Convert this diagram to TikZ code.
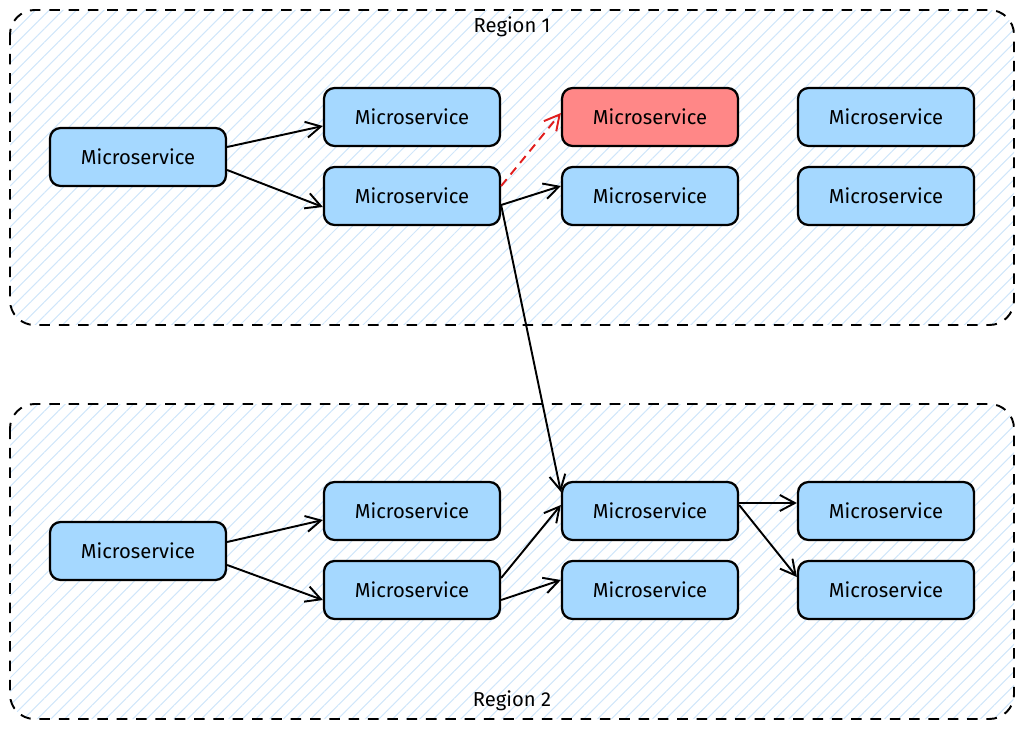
\documentclass[tikz,border=0pt]{standalone}
\usepackage{fontspec}
\setmainfont{Fira Sans}
\usepackage{tikz}
\usetikzlibrary{arrows.meta,patterns.meta}
\definecolor{svcblue}{RGB}{165,216,255}
\definecolor{svcred}{RGB}{255,135,135}
\definecolor{hatch}{RGB}{208,230,250}
\definecolor{warnred}{RGB}{224,30,30}

\begin{document}
\begin{tikzpicture}[
  x=0.02cm, y=-0.02cm,
  box/.style={draw=black, line width=1.3pt, rounded corners=6pt, fill=svcblue, minimum width=3.52cm, minimum height=1.16cm, align=center, font=\fontsize{11.5}{14}\selectfont},
  region/.style={draw=black, line width=1.1pt, dash pattern=on 6pt off 5pt, rounded corners=14pt, pattern={Lines[angle=45,distance=5.5pt,line width=0.6pt]}, pattern color=hatch},
  arr/.style={-{Straight Barb[length=3mm,width=3.2mm]}, line width=1.1pt},
  lbl/.style={font=\fontsize{11.5}{14}\selectfont}
]
\useasboundingbox (0,0) rectangle (1024,729);
% regions
\draw[region] (10,10) rectangle (1014,325);
\draw[region] (10,404) rectangle (1014,719);
\node[lbl] (r1) at (512,27) {Region 1};
\node[lbl] (r2) at (512,701) {Region 2};
% region 1 services
\node[box] (l1) at (138,157) {Microservice};
\node[box] (a1) at (412,117) {Microservice};
\node[box] (a2) at (412,196) {Microservice};
\node[box, fill=svcred] (b1) at (650,117) {Microservice};
\node[box] (b2) at (650,196) {Microservice};
\node[box] (c1) at (886,117) {Microservice};
\node[box] (c2) at (886,196) {Microservice};
% region 2 services
\node[box] (l2) at (138,551) {Microservice};
\node[box] (d1) at (412,511) {Microservice};
\node[box] (d2) at (412,590) {Microservice};
\node[box] (e1) at (650,511) {Microservice};
\node[box] (e2) at (650,590) {Microservice};
\node[box] (f1) at (886,511) {Microservice};
\node[box] (f2) at (886,590) {Microservice};
% calls in region 1
\draw[arr] ([yshift=0.2cm]l1.east) -- ([yshift=-0.18cm]a1.west);
\draw[arr] ([yshift=-0.26cm]l1.east) -- ([yshift=-0.22cm]a2.west);
\draw[arr, warnred, dash pattern=on 5pt off 3.5pt] ([yshift=0.2cm]a2.east) -- ([yshift=0.08cm]b1.west);
\draw[arr] ([yshift=-0.18cm]a2.east) -- ([yshift=0.2cm]b2.west);
% cross region call
\draw[arr] ([yshift=-0.18cm]a2.east) -- ([yshift=0.38cm]e1.west);
% calls in region 2
\draw[arr] ([yshift=0.18cm]l2.east) -- ([yshift=-0.18cm]d1.west);
\draw[arr] ([yshift=-0.28cm]l2.east) -- ([yshift=-0.2cm]d2.west);
\draw[arr] ([yshift=0.24cm]d2.east) -- ([yshift=0.12cm]e1.west);
\draw[arr] ([yshift=-0.2cm]d2.east) -- ([yshift=0.2cm]e2.west);
\draw[arr] ([yshift=0.16cm]e1.east) -- ([yshift=0.16cm]f1.west);
\draw[arr] ([yshift=0.12cm]e1.east) -- ([yshift=0.26cm]f2.west);
\end{tikzpicture}
\end{document}
